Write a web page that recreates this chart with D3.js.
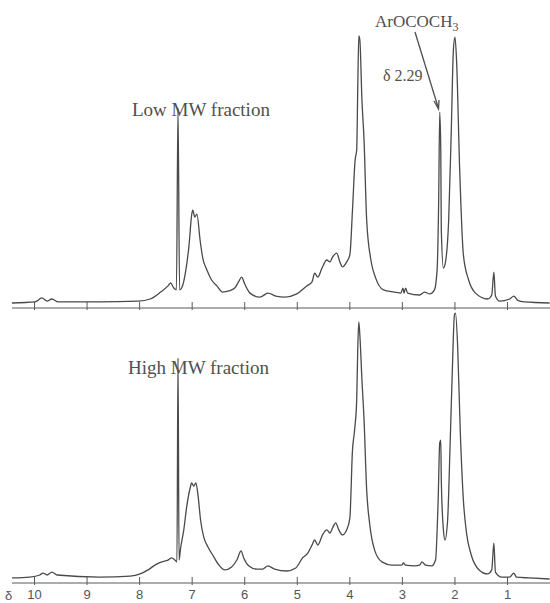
<!DOCTYPE html>
<html>
<head>
<meta charset="utf-8">
<script src="https://cdn.jsdelivr.net/npm/d3@7"></script>
<style>
  body { margin: 0; background: #fff; }
  .trace { fill: none; stroke: #4a4a4a; stroke-width: 1.3; stroke-linejoin: round; }
  .axisLine { stroke: #5a5a5a; stroke-width: 1.2; }
  .tick line { stroke: #5a5a5a; stroke-width: 1; }
  .tick text { font-family: "Liberation Sans", Arial, sans-serif; font-size: 13px; fill: #555; }
  .panelLabel { font-family: "Liberation Serif", "Times New Roman", serif; font-size: 19px; fill: #505050; }
  .note { font-family: "Liberation Serif", "Times New Roman", serif; font-size: 17px; fill: #505050; }
</style>
</head>
<body>
<script>
(function(){

//chemical shift ticks (ppm)
var tickValues = [10, 9, 8, 7, 6, 5, 4, 3, 2, 1];

//low MW fraction trace: shift (ppm) and relative intensity
var lowPpm = [10.42, 9.98, 9.85, 9.75, 9.66, 9.54, 8.75, 8.02, 7.79, 7.59, 7.45, 7.40, 7.34, 7.29, 7.26, 7.23,
    7.19, 7.11, 7.05, 7.00, 6.98, 6.94, 6.90, 6.84, 6.79, 6.71, 6.62, 6.52, 6.41, 6.29, 6.18, 6.10, 6.05, 5.99,
    5.89, 5.70, 5.55, 5.40, 5.23, 5.00, 4.81, 4.71, 4.66, 4.60, 4.52, 4.43, 4.37, 4.32, 4.24, 4.18, 4.13, 4.05,
    3.99, 3.94, 3.89, 3.86, 3.84, 3.82, 3.80, 3.76, 3.72, 3.67, 3.59, 3.50, 3.35, 3.14, 3.02, 2.98, 2.96, 2.93,
    2.89, 2.66, 2.57, 2.47, 2.38, 2.33, 2.30, 2.28, 2.26, 2.25, 2.21, 2.17, 2.11, 2.06, 2.02, 1.99, 1.96, 1.90,
    1.83, 1.73, 1.60, 1.37, 1.29, 1.25, 1.22, 1.14, 0.95, 0.87, 0.80, 0.67, 0.19];
var lowInt = [0, 0.4, 1.9, 0.7, 1.5, 0.4, 0.4, 0.7, 1.5, 4.1, 6.4, 7.5, 5.6, 4.9, 73, 4.9,
    5.6, 12.4, 21.7, 33, 34.8, 32.2, 33.3, 23.6, 16.9, 12.4, 8.6, 6.4, 4.1, 4.5, 5.6, 8.2, 9.7, 7.1,
    3.7, 2.2, 3.7, 2.6, 2.2, 3.4, 6.4, 7.9, 11.2, 9.7, 13.1, 16.1, 15.4, 17.2, 18.7, 15.4, 13.5, 15.4,
    18, 34.8, 53.6, 57.3, 80, 100, 98.5, 76, 61, 31, 16.1, 9.4, 4.9, 4.1, 3.7, 5.6, 3.7, 5.6,
    3.7, 3.0, 4.1, 3.4, 4.9, 12.4, 38.6, 71.5, 57.3, 27.3, 13.1, 15.4, 31, 64.8, 94.8, 99.6, 91, 49.8,
    18, 8.6, 3.7, 1.5, 3.0, 11.6, 2.6, 0.7, 1.5, 2.6, 1.1, 0.4, 0];

//high MW fraction trace
var highPpm = [10.42, 10.08, 9.89, 9.83, 9.75, 9.66, 9.56, 8.75, 8.17, 7.98, 7.83, 7.70, 7.57, 7.45, 7.38, 7.32,
    7.28, 7.26, 7.24, 7.21, 7.15, 7.09, 7.03, 7.00, 6.96, 6.92, 6.88, 6.83, 6.77, 6.69, 6.60, 6.48, 6.37, 6.24,
    6.14, 6.06, 6.01, 5.91, 5.76, 5.65, 5.55, 5.42, 5.19, 5.02, 4.89, 4.79, 4.71, 4.66, 4.60, 4.51, 4.43, 4.37,
    4.32, 4.26, 4.20, 4.13, 4.05, 3.99, 3.94, 3.90, 3.86, 3.84, 3.82, 3.80, 3.76, 3.72, 3.67, 3.61, 3.52, 3.38,
    3.19, 3.00, 2.97, 2.93, 2.76, 2.66, 2.62, 2.55, 2.43, 2.36, 2.31, 2.28, 2.26, 2.25, 2.21, 2.18, 2.13, 2.08,
    2.04, 2.00, 1.98, 1.94, 1.89, 1.83, 1.77, 1.68, 1.53, 1.37, 1.29, 1.25, 1.22, 1.10, 0.95, 0.87, 0.82, 0.57, 0.19];
var highInt = [0.4, 0.7, 1.5, 2.2, 1.5, 2.6, 1.5, 0.7, 1.1, 1.9, 3.4, 5.2, 6.4, 7.1, 7.9, 7.1,
    6.4, 82.8, 7.1, 11.6, 18.4, 27.7, 34, 36, 34.8, 36, 31.5, 22, 15.7, 12, 9, 5.2, 3.4, 4.5,
    7.1, 10.5, 7.9, 4.9, 3.7, 3.7, 4.9, 3.7, 3.0, 4.1, 7.9, 9.7, 12.7, 14.6, 12.7, 16.5, 18.4, 17.2,
    19.1, 21, 18.4, 16.5, 18.4, 22.8, 48.3, 55.8, 67, 85.8, 96.3, 91.4, 74.5, 59.6, 33.3, 20.2, 10.9, 6.4,
    5.2, 5.2, 6, 5.2, 4.9, 5.2, 6.4, 5.2, 4.9, 7.1, 29.6, 51, 52, 37, 18.4, 14.6, 22, 52,
    78.3, 98.9, 99.6, 87.6, 55.8, 29.6, 17.2, 9, 3.4, 1.9, 3.4, 13.5, 2.6, 0.7, 0.7, 2.2, 0.7, 0.4, 0];

var width = 550,
    height = 603;

window.onload = setChart();

function setChart(){

    var svg = d3.select("body")
        .append("svg")
        .attr("width", width)
        .attr("height", height);

    //ppm runs right to left
    var x = d3.scaleLinear()
        .domain([10, 1])
        .range([34, 507]);

    var yLow = d3.scaleLinear().domain([0, 100]).range([303, 36]);
    var yHigh = d3.scaleLinear().domain([0, 100]).range([579, 312]);

    drawAxis(svg, x, 308, false);
    drawAxis(svg, x, 583, true);

    drawTrace(svg, x, yLow, lowPpm, lowInt);
    drawTrace(svg, x, yHigh, highPpm, highInt);

    //panel labels
    svg.append("text").attr("class", "panelLabel")
        .attr("x", 132).attr("y", 116)
        .text("Low MW fraction");
    svg.append("text").attr("class", "panelLabel")
        .attr("x", 128).attr("y", 374)
        .text("High MW fraction");

    //acetate annotation
    var note = svg.append("text").attr("class", "note")
        .attr("x", 375).attr("y", 27)
        .text("ArOCOCH");
    note.append("tspan").attr("dy", 4).style("font-size", "12px").text("3");

    svg.append("text").attr("class", "note")
        .attr("x", 383).attr("y", 81)
        .style("font-size", "16px")
        .text("\u03b4 2.29");

    svg.append("line")
        .attr("x1", 415).attr("y1", 32)
        .attr("x2", 438).attr("y2", 107)
        .attr("stroke", "#505050").attr("stroke-width", 1.3);
    svg.append("path")
        .attr("d", "M434,101 L438.5,109 L439,100")
        .attr("fill", "none").attr("stroke", "#505050").attr("stroke-width", 1.3);
};

function drawTrace(svg, x, y, ppm, intensity){
    var points = ppm.map(function(d, i){ return [d, intensity[i]]; });

    var line = d3.line()
        .x(function(d){ return x(d[0]); })
        .y(function(d){ return y(d[1]); })
        .curve(d3.curveMonotoneX);

    svg.append("path")
        .datum(points)
        .attr("class", "trace")
        .attr("d", line);
};

function drawAxis(svg, x, yPos, withLabels){
    //full width baseline under the trace
    svg.append("line")
        .attr("class", "axisLine")
        .attr("x1", 12).attr("x2", 550)
        .attr("y1", yPos).attr("y2", yPos);

    var axis = d3.axisBottom(x)
        .tickValues(tickValues)
        .tickSizeInner(-6)
        .tickSizeOuter(0)
        .tickPadding(7)
        .tickFormat(withLabels ? d3.format("d") : "");

    var g = svg.append("g")
        .attr("transform", "translate(0," + yPos + ")")
        .call(axis);
    g.select(".domain").remove();
    g.selectAll(".tick line").attr("y2", -6).attr("y1", 2);
    g.selectAll(".tick text").attr("font-family", null).attr("font-size", null);

    if (withLabels){
        svg.append("text")
            .attr("x", 5).attr("y", 600)
            .style("font-family", "Liberation Sans, Arial, sans-serif")
            .style("font-size", "13px").style("fill", "#555")
            .text("\u03b4");
    };
};

})();
</script>
</body>
</html>
